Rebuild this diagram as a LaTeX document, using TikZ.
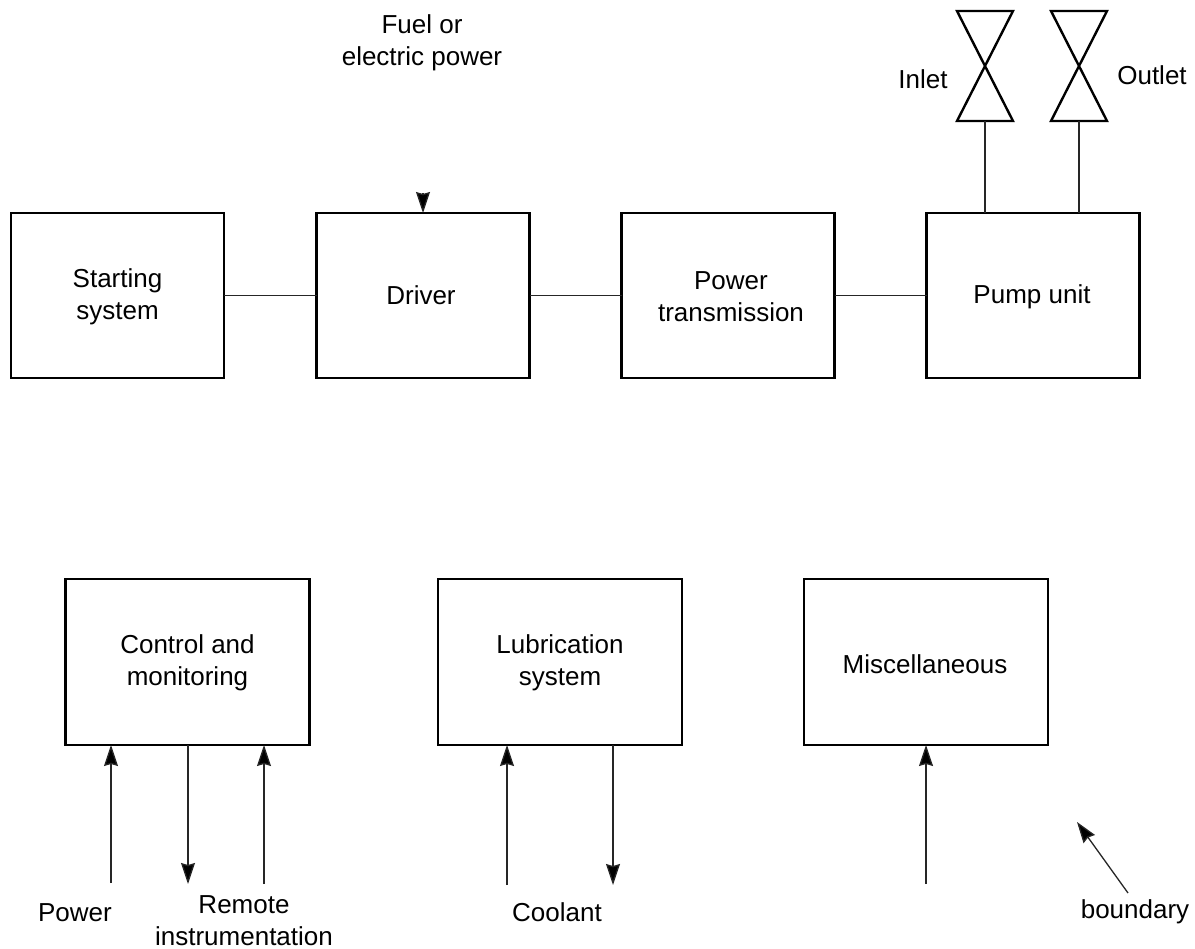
\documentclass[tikz,border=0pt]{standalone}
\usepackage{fontspec}
\setmainfont{Liberation Sans}
\usetikzlibrary{arrows.meta}
\tikzset{
  blockbox/.style={draw=black,line width=2.4pt,minimum width=213pt,minimum height=165pt,inner sep=0pt,outer sep=0pt,align=center},
  lowbox/.style={blockbox,minimum width=244pt,minimum height=166pt},
  txt/.style={inner sep=0pt,align=center,font=\fontsize{26}{32}\selectfont},
  conn/.style={draw=black!85,line width=1.3pt},
  arr/.style={conn,-{Stealth[length=21pt,width=14pt,inset=2pt,fill=black]}},
  valve/.style={draw=black,line width=2.4pt,line join=miter}
}
\begin{document}
\begin{tikzpicture}[x=1pt,y=-1pt]
\useasboundingbox (0,0) rectangle (1195,949);
\node[blockbox] (start) at (117.5,295.5) {};
\node[txt] at (117.5,296.5) {Starting\\system};
\node[blockbox] (driver) at (423,295.5) {};
\node[txt] at (421,295) {Driver};
\node[blockbox] (trans) at (728,295.5) {};
\node[txt] at (731,297) {Power\\transmission};
\node[blockbox] (pump) at (1033,295.5) {};
\node[txt] at (1032,297) {Pump unit};
\node[lowbox] (ctrl) at (187.5,662) {};
\node[txt] at (187.5,662.5) {Control and\\monitoring};
\node[lowbox] (lub) at (560,662) {};
\node[txt] at (560,662.5) {Lubrication\\system};
\node[lowbox] (misc) at (926,662) {};
\node[txt] at (925,664.5) {Miscellaneous};
\draw[conn] (start) -- (driver);
\draw[conn] (driver) -- (trans);
\draw[conn] (trans) -- (pump);
% fuel
\coordinate (fueltop) at (423,193);
\draw[arr] (fueltop) -- (fueltop |- driver.north);
\node[txt] (fuel) at (422,43) {Fuel or\\electric power};
% valves
\coordinate (vi) at (985,121);
\coordinate (vo) at (1079,121);
\draw[valve] (957,11) -- (1013,11) -- (957,121) -- (1013,121) -- cycle;
\draw[valve] (1051,11) -- (1107,11) -- (1051,121) -- (1107,121) -- cycle;
\draw[conn] (vi) -- (vi |- pump.north);
\draw[conn] (vo) -- (vo |- pump.north);
\node[txt] (inlet) at (923,79) {Inlet};
\node[txt] (outlet) at (1152,75) {Outlet};
% lower arrows
\coordinate (a1) at (111,883);
\coordinate (a2) at (188,884);
\coordinate (a3) at (264,884);
\coordinate (a4) at (507,885);
\coordinate (a5) at (613,885);
\coordinate (a6) at (926,884);
\draw[arr] (a1) -- (a1 |- ctrl.south);
\draw[arr] (a2 |- ctrl.south) -- (a2);
\draw[arr] (a3) -- (a3 |- ctrl.south);
\draw[arr] (a4) -- (a4 |- lub.south);
\draw[arr] (a5 |- lub.south) -- (a5);
\draw[arr] (a6) -- (a6 |- misc.south);
\node[txt] (power) at (75,913) {Power};
\node[txt] (remote) at (244,921) {Remote\\instrumentation};
\node[txt] (cool) at (557,912) {Coolant};
\node[txt] (bound) at (1135,912) {boundary};
\coordinate (bs) at (1128,893);
\coordinate (be) at (1077,822);
\draw[arr] (bs) -- (be);
\end{tikzpicture}
\end{document}
